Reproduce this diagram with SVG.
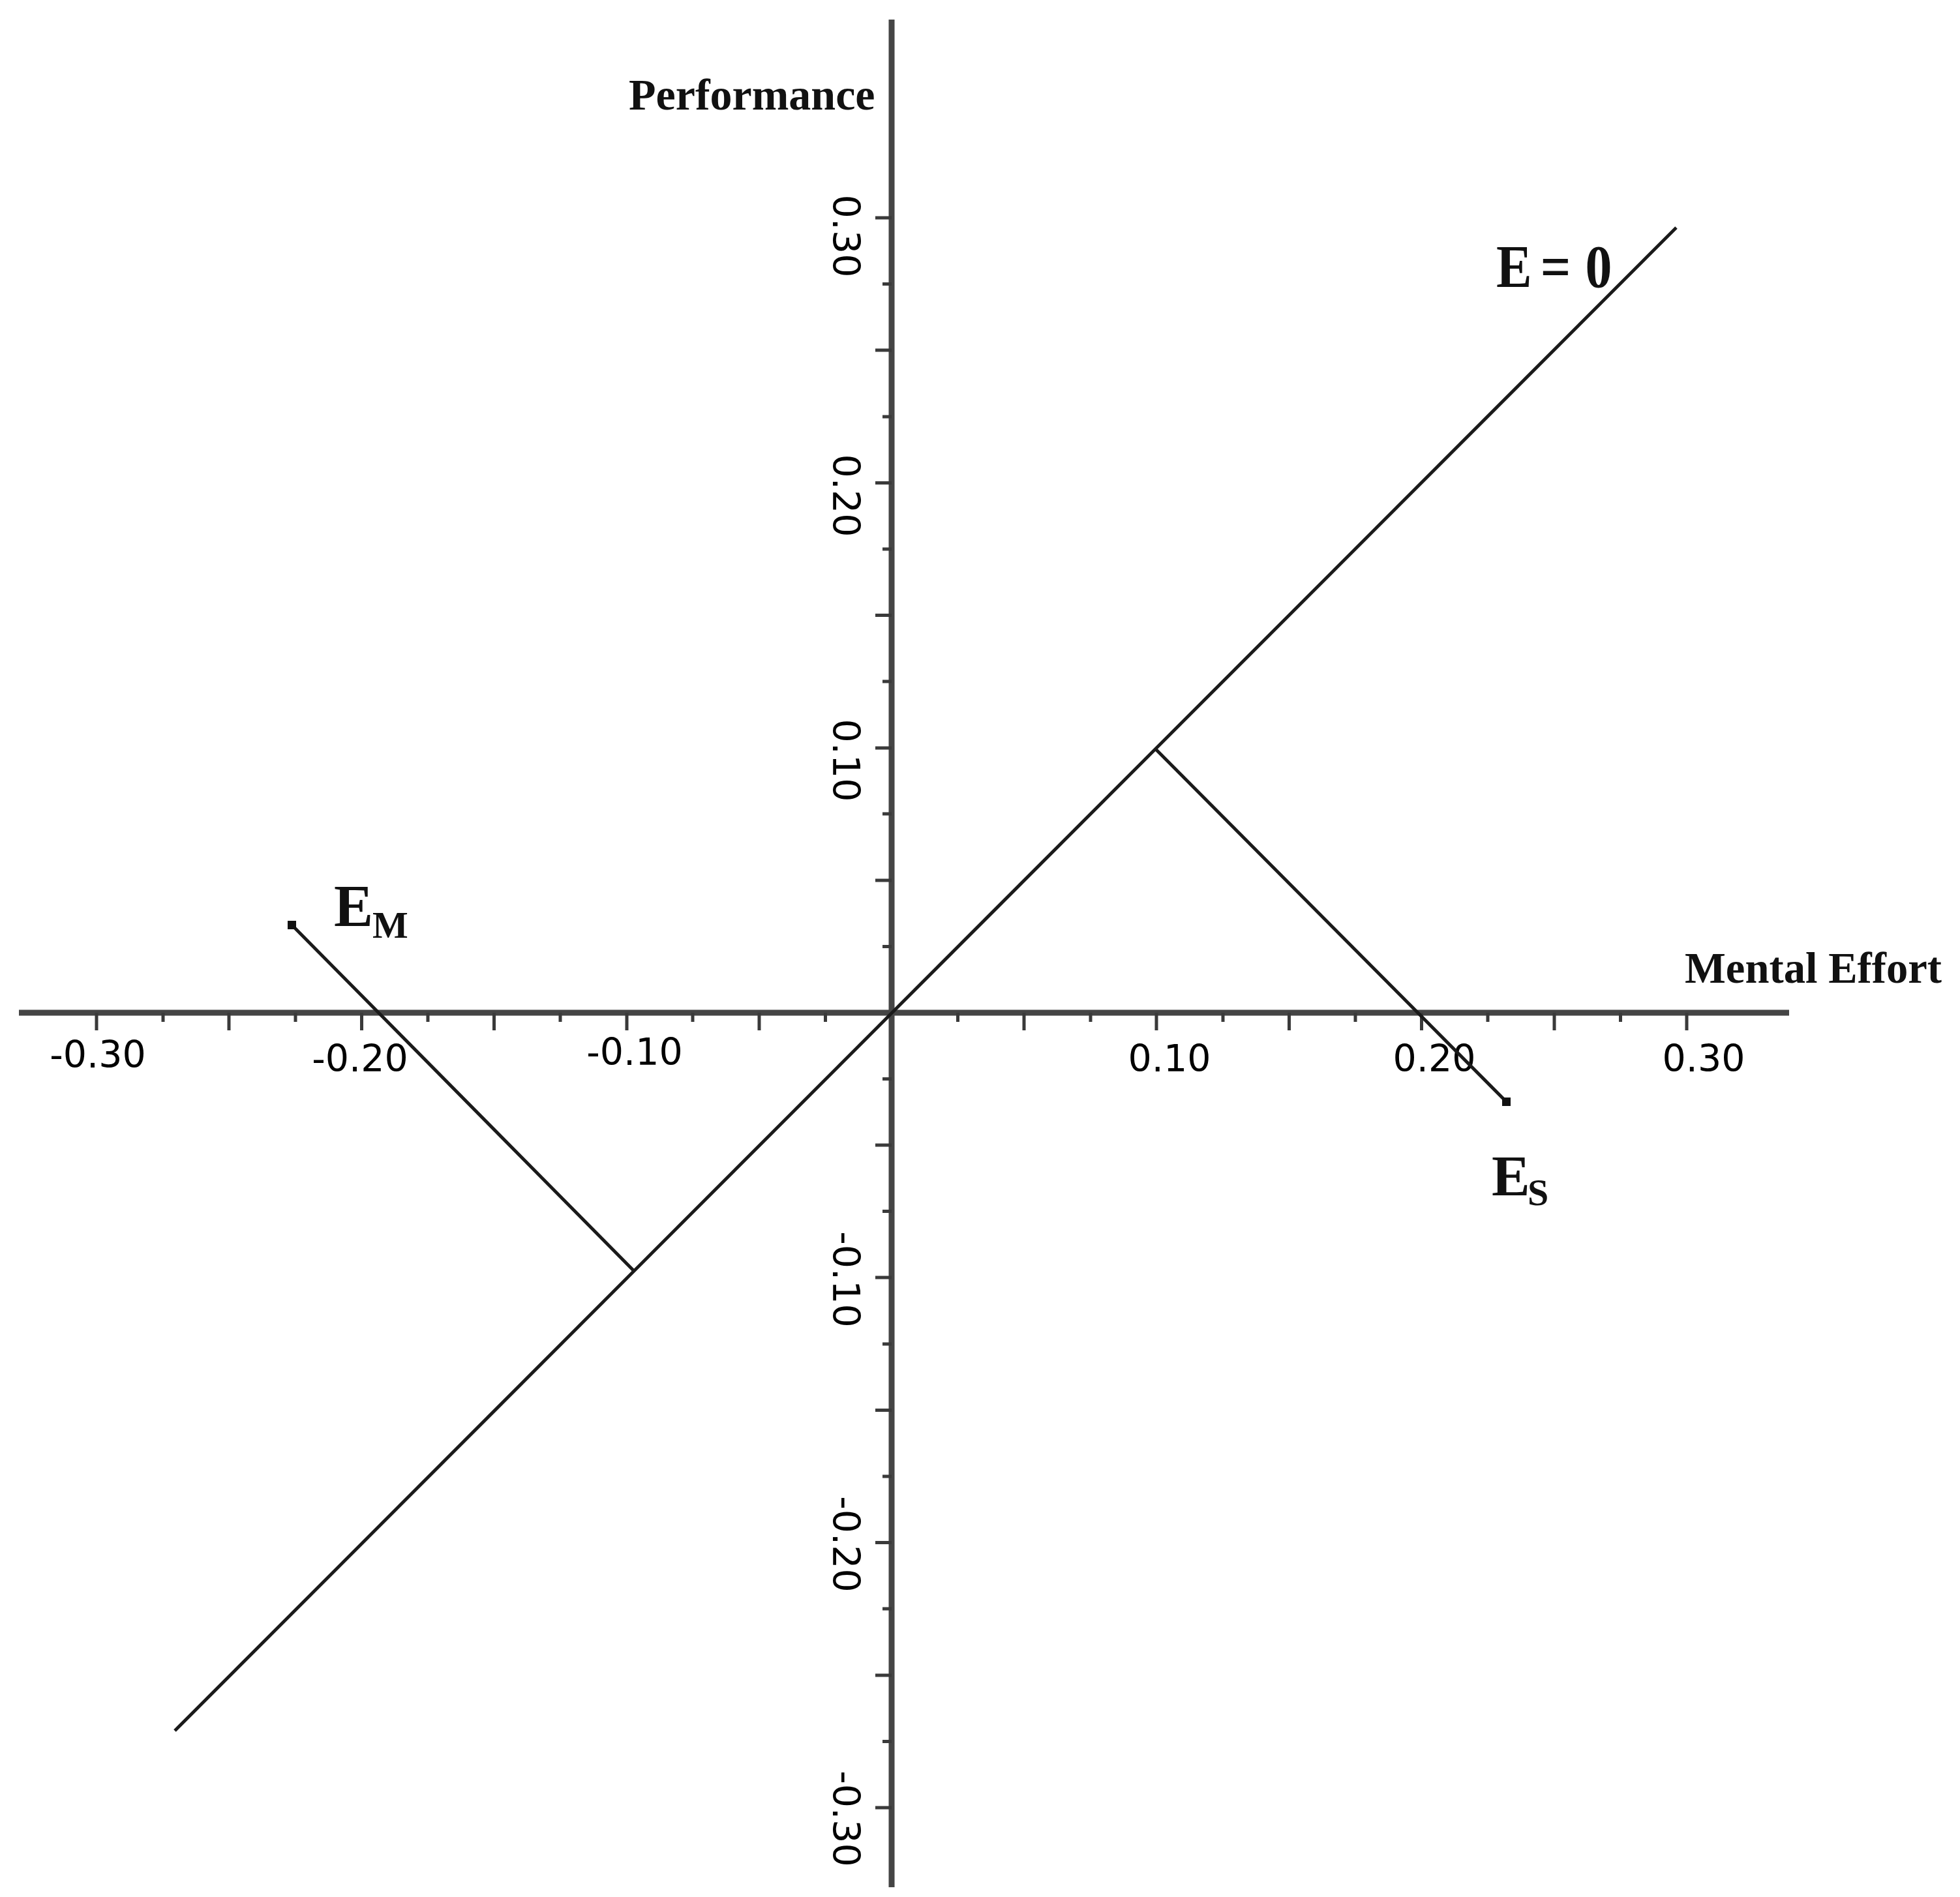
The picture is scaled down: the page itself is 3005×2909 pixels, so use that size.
<svg xmlns="http://www.w3.org/2000/svg" width="3005" height="2909" viewBox="0 0 3005 2909">
<style>
.axis{stroke:#454545;stroke-width:9;fill:none}
.tick{stroke:#3a3a3a;stroke-width:5;fill:none}
.ln{stroke:#1a1a1a;stroke-width:5;fill:none}
.num{font-family:"DejaVu Sans",sans-serif;font-size:57px;fill:#000}
.lab{font-family:"Liberation Serif",serif;font-weight:bold;fill:#111}
</style>
<rect width="3005" height="2909" fill="#fff"/>
<g id="axes">
<line class="axis" x1="29" y1="1553" x2="2743" y2="1553"/>
<line class="axis" x1="1367" y1="30" x2="1367" y2="2894"/>
</g>
<g id="ticks">
<path class="tick" d="M148 1553V1580M351 1553V1580M554.5 1553V1580M757.5 1553V1580M961 1553V1580M1164 1553V1580M1570 1553V1580M1773 1553V1580M1976.5 1553V1580M2179.5 1553V1580M2383 1553V1580M2586 1553V1580"/>
<path class="tick" d="M250 1553V1567M453 1553V1567M656 1553V1567M859 1553V1567M1062 1553V1567M1265.5 1553V1567M1468.5 1553V1567M1672 1553V1567M1875 1553V1567M2078 1553V1567M2281 1553V1567M2484.5 1553V1567"/>
<path class="tick" d="M1367 334H1342M1367 537H1342M1367 740.5H1342M1367 943.5H1342M1367 1147H1342M1367 1350H1342M1367 1756H1342M1367 1959H1342M1367 2162.5H1342M1367 2365.5H1342M1367 2569H1342M1367 2772H1342"/>
<path class="tick" d="M1367 435.5H1353M1367 639H1353M1367 842H1353M1367 1045H1353M1367 1248H1353M1367 1451.5H1353M1367 1654.5H1353M1367 1857.5H1353M1367 2061H1353M1367 2264H1353M1367 2467H1353M1367 2670.5H1353"/>
</g>
<g id="x-labels" class="num" text-anchor="middle">
<text x="150" y="1637">-0.30</text>
<text x="552" y="1643">-0.20</text>
<text x="973" y="1633">-0.10</text>
<text x="1793" y="1643">0.10</text>
<text x="2199" y="1643">0.20</text>
<text x="2612" y="1643">0.30</text>
</g>
<g id="y-labels" class="num" text-anchor="middle">
<text transform="translate(1277 362) rotate(90)">0.30</text>
<text transform="translate(1277 760) rotate(90)">0.20</text>
<text transform="translate(1277 1166) rotate(90)">0.10</text>
<text transform="translate(1277 1962) rotate(90)">-0.10</text>
<text transform="translate(1277 2368) rotate(90)">-0.20</text>
<text transform="translate(1277 2789) rotate(90)">-0.30</text>
</g>
<g id="connectors">
<line class="ln" x1="268" y1="2654" x2="2570" y2="349"/>
<line class="ln" x1="1772" y1="1149" x2="2310" y2="1690"/>
<line class="ln" x1="971" y1="1948" x2="448" y2="1419"/>
<rect x="2303" y="1683" width="13" height="13" fill="#111"/>
<rect x="441" y="1412" width="13" height="13" fill="#111"/>
</g>
<g id="axis-titles" class="lab">
<text x="964" y="168" font-size="68">Performance</text>
<text x="2583" y="1507" font-size="68" textLength="394" lengthAdjust="spacingAndGlyphs">Mental Effort</text>
</g>
<g id="E0" class="lab"><text transform="translate(2294 440) scale(0.87 1)" font-size="94"><tspan x="0">E</tspan><tspan x="78">=</tspan><tspan x="157">0</tspan></text></g>
<g id="EM" class="lab"><text x="512" y="1420" font-size="90">E<tspan x="571" y="1438" font-size="58">M</tspan></text></g>
<g id="ES" class="lab"><text x="2287" y="1833" font-size="88">E<tspan x="2342" y="1848" font-size="58">S</tspan></text></g>
</svg>
